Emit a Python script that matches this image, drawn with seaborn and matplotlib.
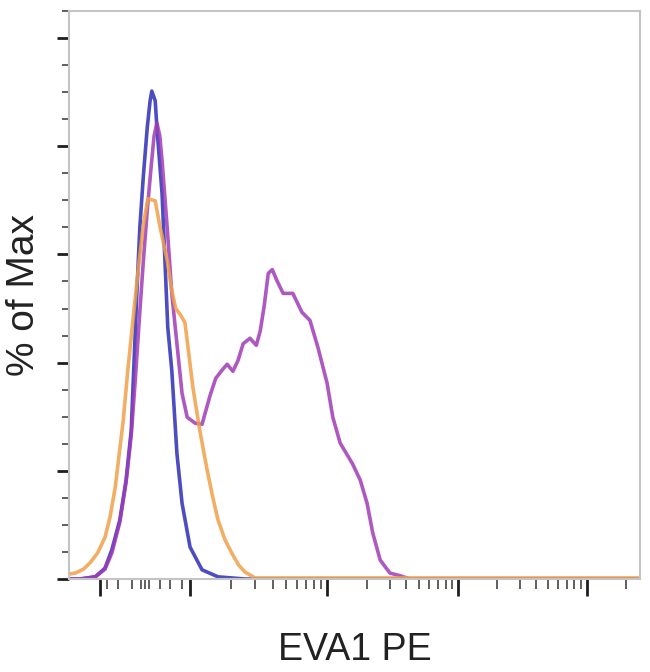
import numpy as np
import pandas as pd
import matplotlib
matplotlib.use("Agg")
import matplotlib.pyplot as plt
import seaborn as sns

# channel position on the (biexponential) EVA1 PE axis, 0..1000 display units
blue_x = [0, 19, 46, 63, 75, 89, 100, 109, 114, 119, 124, 130, 137, 142, 145,
          151, 154, 163, 168, 173, 180, 189, 198, 212, 233, 261, 308, 1000]
blue_y = [0, 0, 0.4, 2.0, 5.4, 10.9, 18.3, 27.5, 40.4, 53.3, 64.9, 74.2, 83.4, 88.4, 90.2,
          88.4, 83.4, 71.2, 58.9, 46.5, 38.6, 23.2, 14.0, 5.9, 1.7, 0.4, 0, 0]

purple_x = [0, 19, 46, 63, 75, 89, 100, 109, 116, 123, 130, 137, 144, 149, 154,
            159, 163, 172, 180, 189, 198, 207, 221, 233, 247, 257, 268, 277, 287,
            296, 305, 317, 328, 335, 342, 349, 356, 364, 375, 392, 408, 422, 436,
            452, 462, 475, 496, 510, 522, 532, 545, 562, 580, 597, 1000]
purple_y = [0, 0, 0.4, 1.8, 4.8, 10.5, 17.9, 26.6, 36.7, 47.8, 58.5, 68.1, 76.4, 81.9, 84.3,
            81.9, 77.3, 64.9, 52.8, 43.5, 34.3, 29.9, 28.8, 28.6, 33.9, 37.1, 38.6, 39.7, 38.4,
            40.4, 43.5, 44.5, 43.2, 45.9, 50.6, 56.5, 57.2, 55.2, 52.8, 52.8, 49.3, 47.8, 42.8,
            36.2, 29.9, 25.1, 21.4, 18.3, 14.0, 8.5, 3.5, 1.1, 0.6, 0, 0]

orange_x = [0, 11, 25, 37, 50, 63, 72, 81, 95, 103, 112, 121, 130, 138, 151, 159, 172, 180,
            187, 196, 203, 208, 217, 229, 242, 252, 261, 273, 285, 297, 308, 326, 1000]
orange_y = [0.9, 1.1, 1.8, 3.0, 4.8, 7.7, 11.5, 17.0, 29.3, 38.6, 47.8, 57.0, 65.3, 70.3, 69.9,
            65.3, 58.9, 53.3, 50.0, 48.7, 47.4, 43.2, 35.4, 27.5, 20.1, 15.0, 10.9, 7.3, 4.8,
            2.6, 1.3, 0.2, 0.2]

x_major = [54, 212, 452, 682, 907]
x_near_zero = [66, 86, 110, 126, 133, 140, 159, 177, 198]

sns.set_theme(style="ticks")
plt.rcParams['font.family'] = ['Liberation Sans', 'DejaVu Sans']

fig = plt.figure(figsize=(6.5, 6.72), dpi=100)
ax = fig.add_axes([69 / 650, 1 - 579 / 672, 571 / 650, 568 / 672])

curves = [
    (blue_x, blue_y, "#2e2eb8"),
    (purple_x, purple_y, "#a03cb8"),
    (orange_x, orange_y, "#f0a04a"),
]
for xs, ys, col in curves:
    df = pd.DataFrame({"x": xs, "y": ys})
    sns.lineplot(data=df, x="x", y="y", ax=ax, color=col, lw=2.6,
                 alpha=0.85, estimator=None, sort=False)

ax.set_xlim(0, 1000)
ax.set_ylim(0, 105)

# log-decade minor ticks after 10^2
x_minor = list(x_near_zero)
for a, b in zip(x_major[1:], x_major[2:] + [x_major[-1] + 226]):
    for k in range(2, 10):
        p = a + (b - a) * np.log10(k)
        if p < 1000:
            x_minor.append(p)

ax.set_xticks(x_major)
ax.set_xticks(x_minor, minor=True)
ax.set_yticks(np.arange(0, 101, 20))
ax.set_yticks(np.arange(0, 106, 5), minor=True)
ax.set_xticklabels([])
ax.set_yticklabels([])

ax.tick_params(axis="both", which="major", direction="out", length=9, width=2, color="#1e1e1e")
ax.tick_params(axis="both", which="minor", direction="out", length=5, width=1.2, color="#444444")
ax.tick_params(axis="x", which="major", length=12, pad=2)
ax.tick_params(axis="x", which="minor", length=7)

for s in ax.spines.values():
    s.set_color("#c4c4c4")
    s.set_linewidth(1.5)

ax.set_xlabel("EVA1 PE", fontsize=27, color="#222222", labelpad=24)
ax.set_ylabel("% of Max", fontsize=28, color="#222222", labelpad=7)

fig.savefig("out.png", dpi=100)
